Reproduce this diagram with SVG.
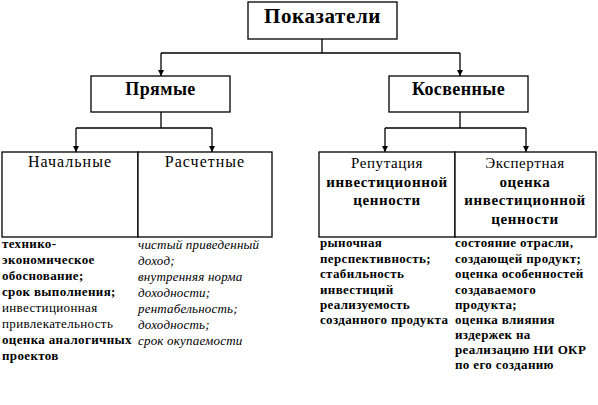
<svg xmlns="http://www.w3.org/2000/svg" width="598" height="405" viewBox="0 0 598 405" font-family="'Liberation Serif', 'DejaVu Serif', serif">
<defs>
<marker id="arr" viewBox="0 0 6 6" refX="6" refY="3" markerWidth="6" markerHeight="6" markerUnits="userSpaceOnUse" orient="auto">
<path d="M0,0 L6,3 L0,6 Z" fill="#000"/>
</marker>
<style>
.box{fill:#fff;stroke:#000;stroke-width:1.3}
.ln{fill:none;stroke:#000;stroke-width:1.3}
.t{font-family:'Liberation Serif','DejaVu Serif',serif;fill:#000}
.b{font-weight:bold}
.h1{font-size:21px;font-weight:bold;letter-spacing:0.6px}
.h2{font-size:18px;font-weight:bold;letter-spacing:0.4px}
.h3{font-size:16px;letter-spacing:1px}
.h4{font-size:15px;letter-spacing:0.6px}
.s{font-size:13px;letter-spacing:0.35px}
.i{font-size:13px;font-style:italic;letter-spacing:0.2px}
</style>
</defs>
<rect width="598" height="405" fill="#fff"/>
<g id="connectors">
<path class="ln" d="M322,39 V53 M161,53 H460"/>
<path class="ln" d="M161,53 V76" marker-end="url(#arr)"/>
<path class="ln" d="M460,53 V76" marker-end="url(#arr)"/>
<path class="ln" d="M161,112 V128 M76,128 H212"/>
<path class="ln" d="M76,128 V152" marker-end="url(#arr)"/>
<path class="ln" d="M212,128 V152" marker-end="url(#arr)"/>
<path class="ln" d="M460,112 V128 M385,128 H526"/>
<path class="ln" d="M385,128 V152" marker-end="url(#arr)"/>
<path class="ln" d="M526,128 V152" marker-end="url(#arr)"/>
</g>
<g id="pokazateli">
<rect class="box" x="248" y="2" width="149" height="37"/>
<text class="t h1" x="322.5" y="23" text-anchor="middle">Показатели</text>
</g>
<g id="pryamye">
<rect class="box" x="91" y="76" width="139" height="36"/>
<text class="t h2" x="160.5" y="95" text-anchor="middle">Прямые</text>
</g>
<g id="kosvennye">
<rect class="box" x="389" y="76" width="139" height="36"/>
<text class="t h2" x="458.5" y="95" text-anchor="middle">Косвенные</text>
</g>
<g id="nachalnye">
<rect class="box" x="2" y="152" width="136" height="85"/>
<text class="t h3" x="70" y="167" text-anchor="middle">Начальные</text>
</g>
<g id="raschetnye">
<rect class="box" x="138" y="152" width="134" height="85"/>
<text class="t h3" x="205" y="167" text-anchor="middle">Расчетные</text>
</g>
<g id="reputatsiya">
<rect class="box" x="319" y="152" width="136" height="85"/>
<text class="t h4" x="387" y="168" text-anchor="middle">Репутация</text>
<text class="t h4 b" x="387" y="187" text-anchor="middle">инвестиционной</text>
<text class="t h4 b" x="387" y="205" text-anchor="middle">ценности</text>
</g>
<g id="ekspertnaya">
<rect class="box" x="455" y="152" width="141" height="85"/>
<text class="t h4" x="525" y="168" text-anchor="middle">Экспертная</text>
<text class="t h4 b" x="525" y="187" text-anchor="middle">оценка</text>
<text class="t h4 b" x="525" y="205" text-anchor="middle">инвестиционной</text>
<text class="t h4 b" x="525" y="224" text-anchor="middle">ценности</text>
</g>
<g id="nachalnye-list">
<text class="t s b" x="2" y="248">технико-</text>
<text class="t s b" x="2" y="264">экономическое</text>
<text class="t s b" x="2" y="280">обоснование;</text>
<text class="t s b" x="2" y="296">срок выполнения;</text>
<text class="t s" x="2" y="312">инвестиционная</text>
<text class="t s" x="2" y="328">привлекательность</text>
<text class="t s b" x="2" y="344">оценка аналогичных</text>
<text class="t s b" x="2" y="360">проектов</text>
</g>
<g id="raschetnye-list">
<text class="t i" x="138" y="249">чистый приведенный</text>
<text class="t i" x="138" y="265">доход;</text>
<text class="t i" x="138" y="281">внутренняя норма</text>
<text class="t i" x="138" y="297">доходности;</text>
<text class="t i" x="138" y="313">рентабельность;</text>
<text class="t i" x="138" y="329">доходность;</text>
<text class="t i" x="138" y="345">срок окупаемости</text>
</g>
<g id="reputatsiya-list">
<text class="t s b" x="320" y="247">рыночная</text>
<text class="t s b" x="320" y="263">перспективность;</text>
<text class="t s b" x="320" y="278">стабильность</text>
<text class="t s b" x="320" y="294">инвестиций</text>
<text class="t s b" x="320" y="309">реализуемость</text>
<text class="t s b" x="320" y="324">созданного продукта</text>
</g>
<g id="ekspertnaya-list">
<text class="t s b" x="455" y="247">состояние отрасли,</text>
<text class="t s b" x="455" y="263">создающей продукт;</text>
<text class="t s b" x="455" y="278">оценка особенностей</text>
<text class="t s b" x="455" y="294">создаваемого</text>
<text class="t s b" x="455" y="309">продукта;</text>
<text class="t s b" x="455" y="324">оценка влияния</text>
<text class="t s b" x="455" y="339">издержек на</text>
<text class="t s b" x="455" y="354">реализацию НИ ОКР</text>
<text class="t s b" x="455" y="369">по его созданию</text>
</g>
</svg>
